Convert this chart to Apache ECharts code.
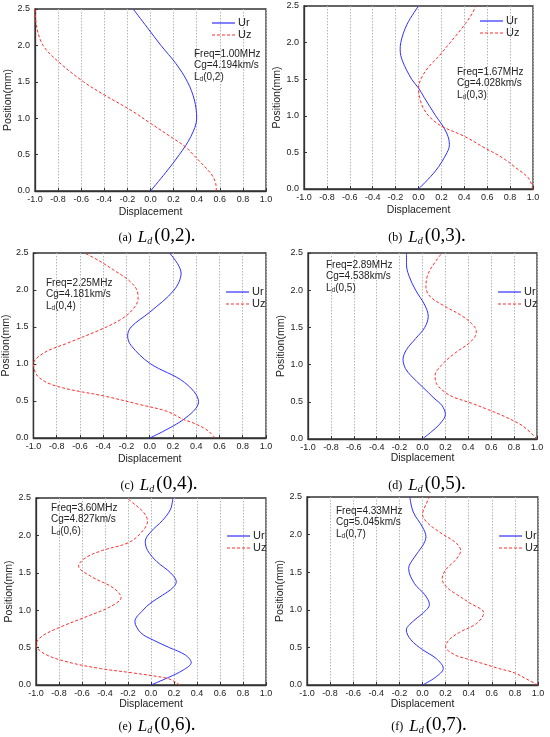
<!DOCTYPE html>
<html>
<head>
<meta charset="utf-8">
<title>Ld(0,n) mode shapes</title>
<script src="https://cdn.jsdelivr.net/npm/echarts@6/dist/echarts.min.js"></script>
<style>
html,body{margin:0;padding:0;background:#fff;}
#chart{width:550px;height:737px;}
</style>
</head>
<body>
<div id="chart"></div>
<script>
// ---- data (position in mm, displacement normalised) ----
// (a) Ld(0,2)
var urPosA = [0,0.25,0.5,0.75,1.0,1.25,1.5,1.75,2.0,2.25,2.5];
var urA    = [0,0.13,0.25,0.35,0.40,0.38,0.32,0.22,0.09,-0.03,-0.15];
var uzPosA = [0,0.1,0.2,0.3,0.4,0.5,0.61,0.75,0.93,1.1,1.32,1.5,1.78,2.0,2.25,2.5];
var uzA    = [0.57,0.565,0.54,0.49,0.43,0.37,0.3,0.17,0.0,-0.16,-0.4,-0.58,-0.8,-0.93,-0.985,-1.0];
// (b) Ld(0,3)
var urPosB = [0,0.25,0.5,0.61,0.75,0.89,1.0,1.25,1.38,1.5,1.75,1.9,2.0,2.25,2.5];
var urB    = [0,0.15,0.25,0.27,0.25,0.2,0.15,0.05,0,-0.06,-0.14,-0.16,-0.155,-0.1,0.0];
var uzPosB = [0,0.15,0.29,0.43,0.56,0.72,0.86,0.98,1.11,1.25,1.38,1.53,1.67,1.8,1.95,2.12,2.26,2.4,2.5];
var uzB    = [1.0,0.96,0.85,0.73,0.58,0.4,0.2,0.1,0.04,0.01,0.0,0.03,0.09,0.17,0.25,0.34,0.41,0.47,0.5];
// (c) Ld(0,4)
var urPosC = [0,0.25,0.49,0.75,1.01,1.25,1.38,1.5,1.7,2.0,2.23,2.5];
var urC    = [0,0.29,0.42,0.3,0.0,-0.16,-0.19,-0.16,0.0,0.21,0.27,0.17];
var uzPosC = [0,0.1,0.2,0.25,0.36,0.45,0.56,0.7,0.83,1.0,1.15,1.28,1.46,1.6,1.73,1.88,2.0,2.13,2.27,2.4,2.5];
var uzC    = [0.56,0.5,0.38,0.29,0.15,-0.08,-0.37,-0.8,-0.96,-1.0,-0.91,-0.71,-0.43,-0.25,-0.15,-0.1,-0.11,-0.18,-0.31,-0.44,-0.56];
// (d) Ld(0,5)
var urPosD = [0,0.1,0.2,0.33,0.45,0.55,0.7,0.85,0.95,1.07,1.2,1.35,1.5,1.65,1.8,2.0,2.2,2.35,2.5];
var urD    = [0,0.08,0.15,0.2,0.17,0.1,0.0,-0.1,-0.15,-0.17,-0.14,-0.06,0.02,0.05,0.02,-0.06,-0.12,-0.14,-0.14];
var uzPosD = [0,0.17,0.3,0.39,0.48,0.57,0.66,0.75,0.85,1.0,1.15,1.28,1.38,1.45,1.55,1.66,1.78,1.91,2.04,2.18,2.31,2.5];
var uzD    = [1.0,0.88,0.72,0.58,0.43,0.26,0.17,0.12,0.11,0.17,0.28,0.4,0.46,0.47,0.43,0.34,0.2,0.07,0.03,0.04,0.08,0.17];
// (e) Ld(0,6)
var urPosE = [0,0.1,0.2,0.3,0.4,0.5,0.6,0.7,0.85,1.0,1.1,1.2,1.3,1.38,1.5,1.65,1.8,1.92,2.05,2.2,2.35,2.5];
var urE    = [0,0.15,0.28,0.35,0.3,0.16,0.02,-0.09,-0.14,-0.07,0.0,0.1,0.19,0.22,0.17,0.05,-0.03,-0.05,0.0,0.1,0.17,0.19];
var uzPosE = [0,0.05,0.09,0.16,0.22,0.31,0.42,0.54,0.65,0.78,0.92,1.05,1.17,1.3,1.45,1.59,1.7,1.8,1.9,2.03,2.19,2.3,2.4,2.5];
var uzE    = [0.25,0.2,0.14,-0.15,-0.44,-0.73,-0.93,-1.0,-0.95,-0.78,-0.55,-0.35,-0.26,-0.33,-0.52,-0.63,-0.57,-0.42,-0.2,-0.09,-0.03,-0.06,-0.13,-0.21];
// (f) Ld(0,7)
var urPosF = [0,0.1,0.22,0.35,0.47,0.6,0.73,0.85,0.95,1.07,1.2,1.35,1.55,1.7,1.85,1.97,2.1,2.3,2.5];
var urF    = [0,0.11,0.18,0.12,0.0,-0.1,-0.14,-0.08,0.0,0.06,0.02,-0.07,-0.12,-0.07,0.0,0.03,0.0,-0.08,-0.11];
var uzPosF = [0,0.08,0.16,0.22,0.29,0.35,0.4,0.51,0.6,0.7,0.82,0.96,1.09,1.2,1.3,1.41,1.53,1.67,1.79,1.89,2.02,2.16,2.27,2.4,2.5];
var uzF    = [1.0,0.9,0.8,0.66,0.51,0.38,0.28,0.2,0.23,0.32,0.47,0.53,0.41,0.3,0.21,0.17,0.2,0.29,0.33,0.29,0.16,0.04,0.0,0.03,0.06];

var freqs  = ['1.00','1.67','2.25','2.89','3.60','4.33'];
var cgs    = ['4.194','4.028','4.181','4.538','4.827','5.045'];
var modes  = ['2','3','4','5','6','7'];
var letters= ['a','b','c','d','e','f'];

var curves = [
  [urPosA,urA,uzPosA,uzA],[urPosB,urB,uzPosB,uzB],[urPosC,urC,uzPosC,uzC],
  [urPosD,urD,uzPosD,uzD],[urPosE,urE,uzPosE,uzE],[urPosF,urF,uzPosF,uzF]
];

// ---- layout ----
var grids = [
  {left:35, top:9, width:231, height:182},
  {left:304, top:6, width:229, height:183},
  {left:33, top:253, width:233, height:185},
  {left:308, top:253, width:229, height:186},
  {left:36, top:498, width:230, height:187},
  {left:307, top:497, width:231, height:188}
];
var xNameGap = [16,16,16,12,12,12];
var legendPos = [[212,17],[480,15],[226,286],[498,286],[227,530],[499,530]];
var notePos = [[194,48],[457,66],[46,277],[326,259],[51,502],[336,505]];
var capPos = [[157,236],[427,236],[159,484],[427,484],[157,725],[429,725]];

var sans = '"Liberation Sans", Arial, sans-serif';
var serif = '"Liberation Serif", "Times New Roman", serif';
var BLUE = '#2f2fff', RED = '#ff2d2d';
// legend glyphs: a solid bar and a dashed bar, 23 x 1
var ICON_SOLID = 'path://M0,0h23v1h-23z';
var ICON_DASH  = 'path://M0,0h3v1h-3zM5,0h3v1h-3zM10,0h3v1h-3zM15,0h3v1h-3zM20,0h3v1h-3z';

function pairs(pos, val){
  var out=[];
  for(var i=0;i<pos.length;i++) out.push([val[i], pos[i]]);
  return out;
}
function fmt(v){
  if(Math.abs(v)<1e-9) return '0.0';
  return v.toFixed(1);
}

var xAxes=[], yAxes=[], series=[], legends=[], graphics=[];
for(var i=0;i<6;i++){
  grids[i].show=true;
  grids[i].borderColor='#333';
  grids[i].borderWidth=1.3;
  xAxes.push({
    gridIndex:i, type:'value', min:-1, max:1, interval:0.2,
    name:'Displacement', nameLocation:'middle', nameGap:xNameGap[i],
    nameTextStyle:{fontSize:10.5, color:'#222', fontFamily:sans},
    axisLine:{show:true, onZero:false, lineStyle:{color:'#333', width:1.3}},
    axisTick:{show:true, inside:true, length:3, lineStyle:{color:'#333'}},
    axisLabel:{fontSize:9, color:'#222', margin:4, fontFamily:sans, formatter:fmt, showMinLabel:true, showMaxLabel:true},
    splitLine:{show:true, lineStyle:{type:[1.5,1.5], color:'#b5b5b5', width:1}}
  });
  yAxes.push({
    gridIndex:i, type:'value', min:0, max:2.5, interval:0.5,
    name:'Position(mm)', nameLocation:'middle', nameGap:18, nameRotate:90,
    nameTextStyle:{fontSize:10.5, color:'#222', fontFamily:sans},
    axisLine:{show:true, onZero:false, lineStyle:{color:'#333', width:1.3}},
    axisTick:{show:true, inside:true, length:3, lineStyle:{color:'#333'}},
    axisLabel:{fontSize:9, color:'#222', margin:5, fontFamily:sans, formatter:fmt},
    splitLine:{show:false}
  });
  var c=curves[i];
  series.push({
    type:'line', name:'Ur', xAxisIndex:i, yAxisIndex:i,
    data:pairs(c[0],c[1]), symbol:'none', smooth:0.35, animation:false,
    lineStyle:{color:BLUE, width:1}, itemStyle:{color:BLUE}
  });
  series.push({
    type:'line', name:'Uz', xAxisIndex:i, yAxisIndex:i,
    data:pairs(c[2],c[3]), symbol:'none', smooth:0.35, animation:false,
    lineStyle:{color:RED, width:1, type:[3,2]}, itemStyle:{color:RED}
  });
  legends.push({
    data:[{name:'Ur', icon:ICON_SOLID}, {name:'Uz', icon:ICON_DASH}],
    orient:'vertical', left:legendPos[i][0], top:legendPos[i][1],
    itemWidth:23, itemHeight:1.2, itemGap:0, padding:0, symbolKeepAspect:false,
    textStyle:{fontSize:11, color:'#222', fontFamily:sans, lineHeight:12, padding:[0,0,0,-2]}
  });
  graphics.push({
    type:'text', left:notePos[i][0], top:notePos[i][1], z:10,
    style:{
      text:'Freq='+freqs[i]+'MHz\nCg='+cgs[i]+'km/s\n{n|L}{s|d}{n|(0,'+modes[i]+')}',
      fontSize:10, fontFamily:sans, fill:'#222', lineHeight:11.7,
      rich:{n:{fontSize:10, fontFamily:sans, fill:'#222', lineHeight:11.7},
            s:{fontSize:6.5, fontFamily:sans, fill:'#222', lineHeight:7, verticalAlign:'bottom'}}
    }
  });
  graphics.push({
    type:'text', x:capPos[i][0], y:capPos[i][1], z:10,
    style:{
      text:'{p|('+letters[i]+')}  {L|L}{d|d}{q|(0,'+modes[i]+')}{q|.}',
      align:'center', verticalAlign:'middle', fontSize:12, fontFamily:serif, fill:'#000',
      rich:{
        p:{fontSize:12, fontFamily:serif, fill:'#000', verticalAlign:'bottom', lineHeight:20, padding:[0,0,2,0]},
        L:{fontSize:17, fontStyle:'italic', fontFamily:serif, fill:'#000', verticalAlign:'bottom', lineHeight:20},
        d:{fontSize:10, fontStyle:'italic', fontFamily:serif, fill:'#000', verticalAlign:'bottom', lineHeight:6, padding:[0,2,0,0]},
        q:{fontSize:19, fontFamily:serif, fill:'#000', verticalAlign:'bottom', lineHeight:20}
      }
    }
  });
}

var chart = echarts.init(document.getElementById('chart'));
chart.setOption({
  backgroundColor:'#fff',
  animation:false,
  grid:grids,
  xAxis:xAxes,
  yAxis:yAxes,
  legend:legends,
  series:series,
  graphic:graphics
});
</script>
</body>
</html>
